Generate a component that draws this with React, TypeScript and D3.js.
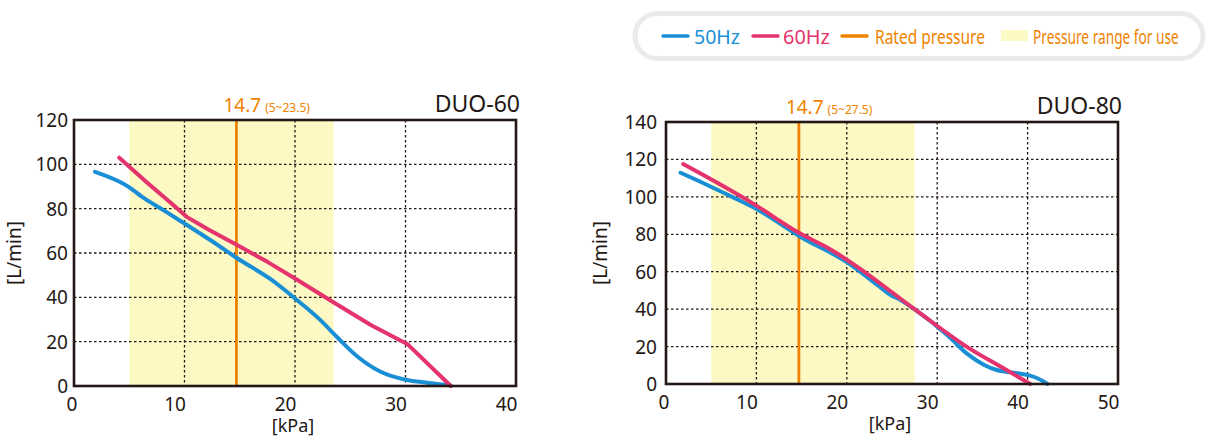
import React, { useLayoutEffect, useRef, useState } from "react";
import * as d3 from "d3";

// ---------- data ----------
const SERIES_NAMES = ["50Hz", "60Hz"];
const LEGEND_LABELS = ["50Hz", "60Hz", "Rated pressure", "Pressure range for use"];

const DUO60_X_TICKS = [0, 10, 20, 30, 40];
const DUO60_Y_TICKS = [0, 20, 40, 60, 80, 100, 120];
const DUO80_X_TICKS = [0, 10, 20, 30, 40, 50];
const DUO80_Y_TICKS = [0, 20, 40, 60, 80, 100, 120, 140];

// [kPa, L/min]
const DUO60_50HZ: [number, number][] = [
  [1.9, 96.6], [4.8, 90.3], [6.4, 84.5], [8.2, 79], [10.0, 73.3], [12.5, 65.3],
  [14.8, 57.5], [17.7, 48.5], [20.0, 39.5], [22.3, 29.7], [23.8, 22.1],
  [25.7, 13.1], [27.8, 6.3], [30.0, 2.8], [32.1, 1.4], [34.1, 0.2],
];
const DUO60_60HZ: [number, number][] = [
  [4.1, 103], [6.5, 92.3], [8.8, 82.4], [10.2, 76.3], [12.2, 70.5], [14.8, 63.5],
  [17.5, 56], [20.0, 48.5], [23.4, 38], [26.9, 27.4], [30.2, 18.8], [34.1, 0],
];
const DUO80_50HZ: [number, number][] = [
  [1.6, 112.9], [4.5, 106.5], [7.6, 99.3], [10.0, 93.5], [14.9, 78.6], [20.2, 64.5],
  [23.6, 52.1], [24.8, 47.7], [26.0, 44.8], [27.6, 39.6], [31.2, 25.8], [33.4, 15.8],
  [35.2, 10.2], [36.5, 7.6], [38.5, 6.0], [40.2, 4.6], [41.2, 2.8], [42.2, 0],
];
const DUO80_60HZ: [number, number][] = [
  [1.9, 117.5], [9.6, 96.5], [14.8, 80.5], [18.3, 71.6], [20.6, 64.5],
  [27.6, 39.6], [33.5, 19.2], [37.3, 8.5], [40.3, 0],
];

const RATED = [14.7, 14.7];
const RANGES: [number, number][] = [[5, 23.5], [5, 27.5]];
const RANGE_LABELS = ["(5~23.5)", "(5~27.5)"];
const TITLES = ["DUO-60", "DUO-80"];

// ---------- styles ----------
const BLUE = "#1a8fd6";
const PINK = "#e5336d";
const ORANGE = "#ef8200";
const YELLOW = "#fcf9c5";
const INK = "#231815";
const FONT = "'Noto Sans', 'Open Sans', sans-serif";

type PanelProps = {
  title: string;
  box: { x0: number; x1: number; y0: number; y1: number };
  yLabelGap: number;
  yTitleGap: number;
  xTicks: number[];
  yTicks: number[];
  s50: [number, number][];
  s60: [number, number][];
  s60Curve: d3.CurveFactory;
  rated: number;
  range: [number, number];
  rangeLabel: string;
};

function Panel(p: PanelProps) {
  const { box } = p;
  const x = d3.scaleLinear().domain([0, p.xTicks[p.xTicks.length - 1]]).range([box.x0, box.x1]);
  const y = d3.scaleLinear().domain([0, p.yTicks[p.yTicks.length - 1]]).range([box.y1, box.y0]);
  const line50 = d3.line<[number, number]>().x((d) => x(d[0])).y((d) => y(d[1])).curve(d3.curveMonotoneX);
  const line60 = d3.line<[number, number]>().x((d) => x(d[0])).y((d) => y(d[1])).curve(p.s60Curve);
  const xInner = p.xTicks.slice(1, -1);
  const yInner = p.yTicks.slice(1, -1);
  const midX = (box.x0 + box.x1) / 2;
  const midY = (box.y0 + box.y1) / 2;
  return (
    <g fontFamily={FONT}>
      <rect x={x(p.range[0])} y={box.y0} width={x(p.range[1]) - x(p.range[0])} height={box.y1 - box.y0} fill={YELLOW} />
      {xInner.map((t) => (
        <line key={"gx" + t} x1={x(t)} x2={x(t)} y1={box.y0} y2={box.y1} stroke={INK} strokeWidth={1.3} strokeDasharray="2.5,2.5" />
      ))}
      {yInner.map((t) => (
        <line key={"gy" + t} x1={box.x0} x2={box.x1} y1={y(t)} y2={y(t)} stroke={INK} strokeWidth={1.3} strokeDasharray="2.5,2.5" />
      ))}
      <line x1={x(p.rated)} x2={x(p.rated)} y1={box.y0} y2={box.y1} stroke={ORANGE} strokeWidth={2.8} />
      <path d={line50(p.s50) || ""} fill="none" stroke={BLUE} strokeWidth={4} strokeLinejoin="round" strokeLinecap="round" />
      <path d={line60(p.s60) || ""} fill="none" stroke={PINK} strokeWidth={4} strokeLinejoin="round" strokeLinecap="round" />
      <rect x={box.x0} y={box.y0} width={box.x1 - box.x0} height={box.y1 - box.y0} fill="none" stroke={INK} strokeWidth={2.6} />
      {p.xTicks.map((t) => (
        <text key={"tx" + t} x={x(t) + (t === 0 ? -2 : -9.5)} y={box.y1 + 25} textAnchor="middle" fontSize={19} fill={INK}>
          {t}
        </text>
      ))}
      {p.yTicks.map((t) => (
        <text key={"ty" + t} x={box.x0 - p.yLabelGap} y={y(t) + 7} textAnchor="end" fontSize={19} fill={INK}>
          {t}
        </text>
      ))}
      <text x={midX - 2} y={box.y1 + 46} textAnchor="middle" fontSize={18} fill={INK}>[kPa]</text>
      <text transform={`translate(${box.x0 - p.yTitleGap},${midY}) rotate(-90)`} textAnchor="middle" fontSize={19} fill={INK}>[L/min]</text>
      <text x={box.x1 + 4} y={box.y0 - 8} textAnchor="end" fontSize={23} fill={INK}>{p.title}</text>
      <text x={x(p.rated) - 13} y={box.y0 - 8} fill={ORANGE}>
        <tspan fontSize={19}>{p.rated}</tspan>
        <tspan fontSize={12} dx={4}>{p.rangeLabel}</tspan>
      </text>
    </g>
  );
}

// text squeezed horizontally to a target width (the original legend uses a condensed face)
function FitText(props: { x: number; y: number; width: number; fill: string; children: string }) {
  const ref = useRef<SVGTextElement>(null);
  const [sx, setSx] = useState(1);
  useLayoutEffect(() => {
    if (ref.current) {
      const w = ref.current.getComputedTextLength();
      if (w > 0) setSx(props.width / w);
    }
  }, [props.width, props.children]);
  return (
    <g transform={`translate(${props.x},${props.y}) scale(${sx},1)`}>
      <text ref={ref} x={0} y={0} fontSize={20} fill={props.fill}>
        {props.children}
      </text>
    </g>
  );
}

function Legend() {
  const colors = [BLUE, PINK, ORANGE];
  const lineX = [663, 753, 842];
  const textX = [694, 783, 875];
  const textW = [46, 47, 110];
  return (
    <g fontFamily={FONT}>
      <rect x={635} y={13.5} width={568} height={45} rx={22.5} fill="#fff" stroke="#ebebeb" strokeWidth={5} />
      {colors.map((c, i) => (
        <g key={i}>
          <line x1={lineX[i]} x2={lineX[i] + 25} y1={36} y2={36} stroke={c} strokeWidth={3.5} strokeLinecap="round" />
          <FitText x={textX[i]} y={44} width={textW[i]} fill={i === 2 ? ORANGE : c}>
            {LEGEND_LABELS[i]}
          </FitText>
        </g>
      ))}
      <rect x={1001} y={30} width={27} height={11} fill={YELLOW} />
      <FitText x={1033} y={44} width={146} fill={ORANGE}>
        {LEGEND_LABELS[3]}
      </FitText>
    </g>
  );
}

export default function App() {
  return (
    <svg width={1207} height={436} style={{ position: "absolute", left: 0, top: 0, background: "#fff" }}>
      <rect x={0} y={0} width={1207} height={436} fill="#fff" />
      <Legend />
      <Panel
        title={TITLES[0]}
        box={{ x0: 74, x1: 516, y0: 120, y1: 386 }}
        yLabelGap={6}
        yTitleGap={53}
        xTicks={DUO60_X_TICKS}
        yTicks={DUO60_Y_TICKS}
        s50={DUO60_50HZ}
        s60={DUO60_60HZ}
        s60Curve={d3.curveLinear}
        rated={RATED[0]}
        range={RANGES[0]}
        rangeLabel={RANGE_LABELS[0]}
      />
      <Panel
        title={TITLES[1]}
        box={{ x0: 666, x1: 1118, y0: 122, y1: 384 }}
        yLabelGap={9}
        yTitleGap={59}
        xTicks={DUO80_X_TICKS}
        yTicks={DUO80_Y_TICKS}
        s50={DUO80_50HZ}
        s60={DUO80_60HZ}
        s60Curve={d3.curveMonotoneX}
        rated={RATED[1]}
        range={RANGES[1]}
        rangeLabel={RANGE_LABELS[1]}
      />
      <desc>{SERIES_NAMES.join(",")}</desc>
    </svg>
  );
}
